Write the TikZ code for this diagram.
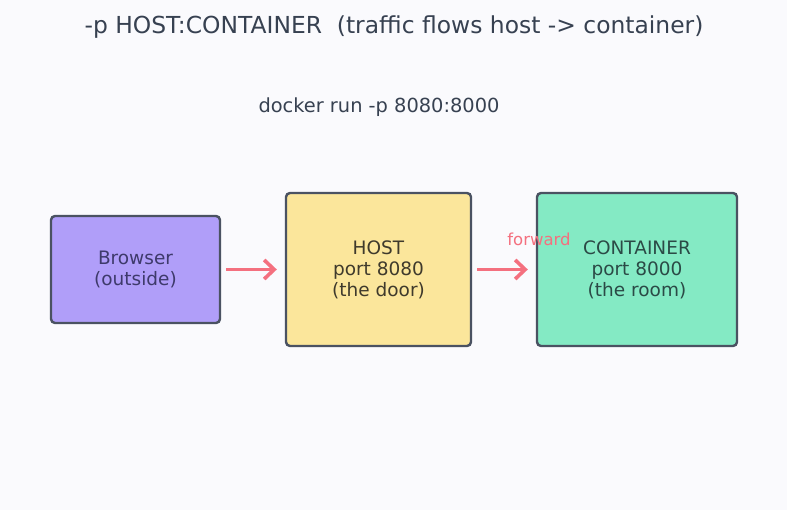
\documentclass[tikz,border=0pt]{standalone}
\usepackage{fontspec}
\setmainfont{DejaVu Sans}
\usetikzlibrary{arrows.meta}
\definecolor{bg}{HTML}{FAFAFD}
\definecolor{edge}{HTML}{4A5262}
\definecolor{purp}{HTML}{B09EF9}
\definecolor{yel}{HTML}{FBE69B}
\definecolor{grn}{HTML}{84EAC4}
\definecolor{arr}{HTML}{F4707F}
\definecolor{txt}{HTML}{374151}
\definecolor{ptxt}{HTML}{3E3A6B}
\definecolor{ytxt}{HTML}{3F3A2C}
\definecolor{gtxt}{HTML}{2B4A46}
\begin{document}
\begin{tikzpicture}[x=1pt,y=-1pt,
  box/.style={draw=edge,line width=2.4pt,rounded corners=4pt,align=center,inner sep=0pt,font=\fontsize{18.5}{21}\selectfont},
  flow/.style={draw=arr,line width=3.6pt,-{Straight Barb[length=10pt,width=19pt,line width=3.6pt]}}]
\fill[bg] (0,0) rectangle (787,510);
\useasboundingbox (0,0) rectangle (787,510);
\node[font=\fontsize{23.4}{26}\selectfont,text=txt] (title) at (394,27) {-p HOST:CONTAINER\ \ (traffic flows host -> container)};
\node[font=\fontsize{19.4}{22}\selectfont,text=txt] (sub) at (379,107) {docker run -p 8080:8000};
\node[box,fill=purp,text=ptxt,minimum width=169pt,minimum height=107pt] (browser) at (135.5,269.5) {\rule{0pt}{0pt}\raisebox{0pt}{}Browser\\(outside)};
\node[box,fill=yel,text=ytxt,minimum width=185pt,minimum height=153pt] (host) at (378.5,269.5) {HOST\\port 8080\\(the door)};
\node[box,fill=grn,text=gtxt,minimum width=200pt,minimum height=153pt] (cont) at (637,269.5) {CONTAINER\\port 8000\\(the room)};
\draw[flow] ([xshift=5pt]browser.east) -- ([xshift=-8pt]host.west);
\draw[flow] ([xshift=5pt]host.east) -- ([xshift=-8pt]cont.west);
\node[text=arr,font=\fontsize{16.5}{20}\selectfont] (fwd) at (539,239) {forward};
\end{tikzpicture}
\end{document}
